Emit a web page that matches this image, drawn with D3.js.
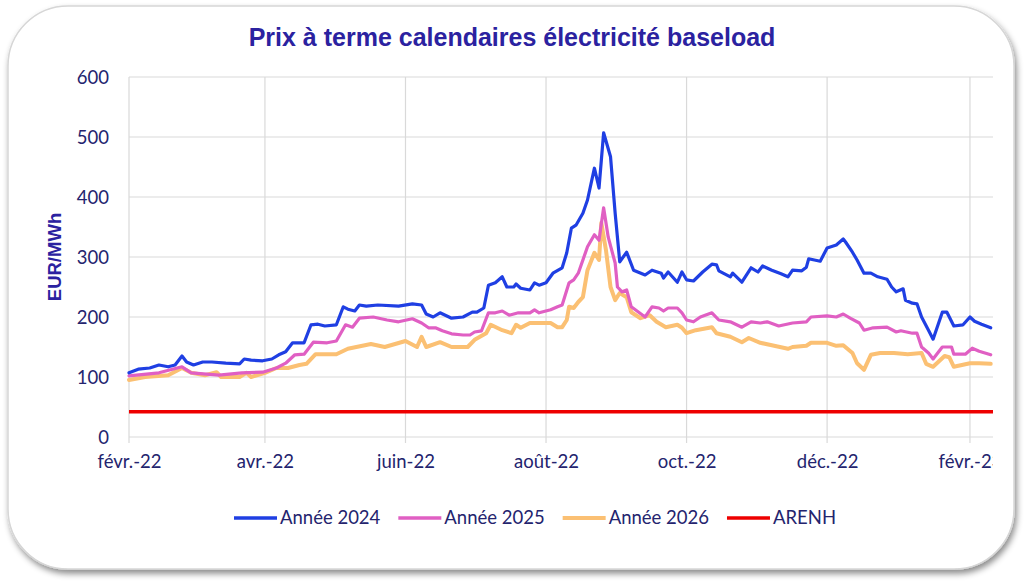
<!DOCTYPE html>
<html><head><meta charset="utf-8">
<script src="https://cdn.jsdelivr.net/npm/d3@7"></script>
<style>
html,body{margin:0;padding:0;background:#fff;}
svg{display:block;}
</style></head>
<body>
<svg id="chart" width="1024" height="584"></svg>
<script>
const title = "Prix à terme calendaires électricité baseload";
const yTitle = "EUR/MWh";
const seriesNames = ["Année 2024", "Année 2025", "Année 2026", "ARENH"];
const seriesColors = ["#1f3fe3", "#e05fc3", "#fbc073", "#ee0000"];
const yTicks = [0, 100, 200, 300, 400, 500, 600];
const xTickDates = ["2022-02-01","2022-04-01","2022-06-01","2022-08-01","2022-10-01","2022-12-01","2023-02-01"];
const xTickLabels = ["févr.-22","avr.-22","juin-22","août-22","oct.-22","déc.-22","févr.-23"];
const xDomain = ["2022-02-01", "2023-02-11"];

const dates2024 = ["2022-02-01","2022-02-05","2022-02-10","2022-02-14","2022-02-18","2022-02-21","2022-02-24","2022-02-26","2022-03-01","2022-03-05","2022-03-09","2022-03-15","2022-03-21","2022-03-23","2022-03-26","2022-03-31","2022-04-04","2022-04-07","2022-04-10","2022-04-13","2022-04-18","2022-04-21","2022-04-24","2022-04-27","2022-05-02","2022-05-05","2022-05-07","2022-05-10","2022-05-12","2022-05-15","2022-05-20","2022-05-29","2022-06-04","2022-06-08","2022-06-10","2022-06-13","2022-06-16","2022-06-21","2022-06-26","2022-06-30","2022-07-02","2022-07-05","2022-07-07","2022-07-10","2022-07-13","2022-07-15","2022-07-18","2022-07-19","2022-07-21","2022-07-25","2022-07-27","2022-07-29","2022-08-01","2022-08-04","2022-08-08","2022-08-10","2022-08-12","2022-08-14","2022-08-17","2022-08-19","2022-08-22","2022-08-24","2022-08-26","2022-08-29","2022-08-31","2022-09-02","2022-09-05","2022-09-08","2022-09-13","2022-09-16","2022-09-20","2022-09-21","2022-09-23","2022-09-27","2022-09-29","2022-10-01","2022-10-04","2022-10-08","2022-10-12","2022-10-14","2022-10-15","2022-10-20","2022-10-21","2022-10-25","2022-10-29","2022-11-01","2022-11-03","2022-11-07","2022-11-11","2022-11-14","2022-11-16","2022-11-20","2022-11-22","2022-11-23","2022-11-28","2022-12-01","2022-12-05","2022-12-08","2022-12-09","2022-12-12","2022-12-14","2022-12-17","2022-12-20","2022-12-23","2022-12-27","2022-12-29","2022-12-31","2023-01-03","2023-01-04","2023-01-07","2023-01-09","2023-01-11","2023-01-14","2023-01-16","2023-01-20","2023-01-22","2023-01-25","2023-01-29","2023-02-01","2023-02-03","2023-02-06","2023-02-10"];
const values2024 = [107,113,115,120,117,120,135,125,120,125,125,123,122,130,128,127,130,137,142,157,157,187,188,185,187,217,213,210,220,218,220,218,222,220,205,200,207,198,200,208,208,215,253,257,267,250,250,255,248,245,257,253,257,273,282,307,348,353,373,395,448,415,507,467,373,292,308,278,270,278,273,265,275,258,275,262,260,275,288,287,277,267,273,258,282,275,285,278,272,267,278,277,283,297,293,315,320,330,325,308,295,273,273,267,263,250,242,247,228,223,222,200,178,163,208,208,185,187,200,193,188,182];

const dates2025 = ["2022-02-01","2022-02-14","2022-02-24","2022-02-28","2022-03-12","2022-03-22","2022-03-31","2022-04-06","2022-04-10","2022-04-14","2022-04-18","2022-04-22","2022-04-28","2022-05-02","2022-05-06","2022-05-09","2022-05-12","2022-05-18","2022-05-24","2022-05-29","2022-06-04","2022-06-08","2022-06-11","2022-06-14","2022-06-17","2022-06-21","2022-06-26","2022-06-29","2022-07-01","2022-07-04","2022-07-07","2022-07-10","2022-07-13","2022-07-16","2022-07-20","2022-07-25","2022-07-27","2022-07-29","2022-08-03","2022-08-06","2022-08-08","2022-08-11","2022-08-13","2022-08-15","2022-08-19","2022-08-22","2022-08-24","2022-08-26","2022-08-28","2022-08-31","2022-09-01","2022-09-03","2022-09-05","2022-09-07","2022-09-13","2022-09-16","2022-09-19","2022-09-21","2022-09-23","2022-09-27","2022-09-29","2022-10-01","2022-10-04","2022-10-07","2022-10-12","2022-10-15","2022-10-20","2022-10-25","2022-10-29","2022-11-02","2022-11-05","2022-11-10","2022-11-16","2022-11-22","2022-11-24","2022-12-01","2022-12-05","2022-12-08","2022-12-11","2022-12-15","2022-12-17","2022-12-21","2022-12-27","2022-12-31","2023-01-02","2023-01-07","2023-01-09","2023-01-11","2023-01-14","2023-01-16","2023-01-20","2023-01-24","2023-01-25","2023-01-30","2023-02-02","2023-02-05","2023-02-10"];
const values2025 = [102,107,117,107,103,107,108,115,123,137,138,158,157,160,187,183,198,200,195,192,197,190,182,182,177,172,170,170,175,177,207,207,210,203,207,207,212,207,212,217,220,257,262,273,317,337,328,382,333,290,250,242,245,217,200,217,215,210,215,215,207,195,192,200,207,195,192,183,192,190,192,185,190,192,200,202,200,205,198,190,178,182,183,175,177,173,173,150,140,130,150,150,138,138,148,143,137];

const dates2026 = ["2022-02-01","2022-02-08","2022-02-18","2022-02-24","2022-02-28","2022-03-06","2022-03-11","2022-03-13","2022-03-21","2022-03-24","2022-03-26","2022-04-01","2022-04-06","2022-04-11","2022-04-16","2022-04-19","2022-04-23","2022-05-02","2022-05-07","2022-05-17","2022-05-23","2022-06-01","2022-06-06","2022-06-08","2022-06-10","2022-06-16","2022-06-21","2022-06-28","2022-07-01","2022-07-06","2022-07-08","2022-07-13","2022-07-17","2022-07-19","2022-07-21","2022-07-25","2022-07-29","2022-08-03","2022-08-06","2022-08-08","2022-08-10","2022-08-11","2022-08-13","2022-08-15","2022-08-17","2022-08-19","2022-08-22","2022-08-24","2022-08-25","2022-08-27","2022-08-29","2022-08-31","2022-09-02","2022-09-05","2022-09-07","2022-09-11","2022-09-15","2022-09-18","2022-09-22","2022-09-27","2022-09-29","2022-10-01","2022-10-05","2022-10-12","2022-10-14","2022-10-20","2022-10-25","2022-10-28","2022-11-02","2022-11-08","2022-11-14","2022-11-16","2022-11-22","2022-11-24","2022-12-01","2022-12-05","2022-12-08","2022-12-12","2022-12-14","2022-12-17","2022-12-20","2022-12-24","2022-12-30","2023-01-05","2023-01-11","2023-01-13","2023-01-16","2023-01-21","2023-01-23","2023-01-25","2023-02-01","2023-02-05","2023-02-10"];
const values2026 = [95,100,103,115,107,103,108,100,100,107,100,107,115,115,120,122,138,138,147,155,150,160,150,167,150,158,150,150,162,173,187,178,173,187,182,190,190,190,183,183,195,217,215,225,233,278,307,295,357,312,250,228,240,233,208,198,203,192,183,187,182,173,178,183,173,167,158,165,157,152,147,150,152,157,157,152,153,140,123,112,137,140,140,138,140,122,117,135,133,117,123,123,122];

const arenhValue = 42;

(function draw() {
const parse = d3.timeParse("%Y-%m-%d");
const svg = d3.select("#chart");

const defs = svg.append("defs");
const f = defs.append("filter").attr("id","shadow").attr("x","-5%").attr("y","-5%").attr("width","110%").attr("height","115%");
f.append("feDropShadow").attr("dx",2).attr("dy",4).attr("stdDeviation",3).attr("flood-color","#000").attr("flood-opacity",0.45);
svg.append("rect").attr("x",8).attr("y",6).attr("width",1006).attr("height",563)
  .attr("rx",60).attr("ry",60).attr("fill","#fff").attr("stroke","#d6d6d6").attr("stroke-width",1.5)
  .attr("filter","url(#shadow)");

const mLeft = 129, mRight = 993, mTop = 77, mBottom = 437;
const x = d3.scaleTime().domain(xDomain.map(parse)).range([mLeft, mRight]);
const y = d3.scaleLinear().domain([0, 600]).range([mBottom, mTop]);

const labelFont = "Lato, 'Noto Sans', sans-serif";
const labelColor = "#24246e";

const g = svg.append("g");
g.selectAll("line.h").data(yTicks).join("line").attr("class","h")
  .attr("x1", mLeft).attr("x2", mRight).attr("y1", d => y(d)).attr("y2", d => y(d))
  .attr("stroke", "#d9d9d9").attr("stroke-width", 1.2);
g.selectAll("line.v").data(xTickDates).join("line").attr("class","v")
  .attr("x1", d => x(parse(d))).attr("x2", d => x(parse(d))).attr("y1", mTop).attr("y2", mBottom + 6)
  .attr("stroke", "#d9d9d9").attr("stroke-width", 1.2);

const yAxis = d3.axisLeft(y).tickValues(yTicks).tickSize(0).tickPadding(0).tickFormat(d3.format("d"));
const ya = svg.append("g").attr("transform", `translate(${mLeft - 20},0)`).call(yAxis);
ya.select(".domain").remove();
ya.selectAll("text").attr("font-family", labelFont).attr("font-size", 18.5).attr("fill", labelColor).attr("dy","0.35em");

defs.append("clipPath").attr("id","xclip").append("rect").attr("x",0).attr("y",-10).attr("width",993).attr("height",60);
const xAxis = d3.axisBottom(x).tickValues(xTickDates.map(parse)).tickSize(0).tickPadding(0)
  .tickFormat((d, i) => xTickLabels[i]);
const xa = svg.append("g").attr("transform", `translate(0,${mBottom + 18})`).attr("clip-path","url(#xclip)").call(xAxis);
xa.select(".domain").remove();
xa.selectAll("text").attr("font-family", labelFont).attr("font-size", 18.5).attr("fill", labelColor).attr("dy","0.71em");

const line = d3.line().x(d => x(d.date)).y(d => y(d.value)).curve(d3.curveLinear);
const series = [
  {dates: dates2024, values: values2024, w: 3.2},
  {dates: dates2025, values: values2025, w: 3.2},
  {dates: dates2026, values: values2026, w: 4},
];
svg.append("line").attr("x1", x(parse(xDomain[0]))).attr("x2", x(parse(xDomain[1])))
  .attr("y1", y(arenhValue)).attr("y2", y(arenhValue))
  .attr("stroke", seriesColors[3]).attr("stroke-width", 3.5);
[2,1,0].forEach(i => {
  const s = series[i];
  const data = s.dates.map((d, k) => ({date: parse(d), value: s.values[k]}));
  svg.append("path").datum(data).attr("d", line).attr("fill", "none")
    .attr("stroke", seriesColors[i]).attr("stroke-width", s.w).attr("stroke-linejoin","round").attr("stroke-linecap","round");
});

svg.append("text").attr("x", 512).attr("y", 46).attr("text-anchor", "middle")
  .attr("font-family", "'Liberation Sans', Arial, sans-serif").attr("font-weight", "bold").attr("font-size", 25)
  .attr("fill", "#2b22a0").text(title);

svg.append("text").attr("transform", "translate(61,257) rotate(-90)").attr("text-anchor", "middle")
  .attr("font-family", "'Liberation Sans', Arial, sans-serif").attr("font-weight", "bold").attr("font-size", 18.5)
  .attr("fill", "#2b22a0").text(yTitle);

const lg = svg.append("g");
let lx = 234;
seriesNames.forEach((name, i) => {
  lg.append("line").attr("x1", lx).attr("x2", lx + 43).attr("y1", 518).attr("y2", 518)
    .attr("stroke", seriesColors[i]).attr("stroke-width", i === 2 ? 4 : 3.5);
  const t = lg.append("text").attr("x", lx + 46).attr("y", 518).attr("dy", "0.35em")
    .attr("font-family", labelFont).attr("font-size", 18.5).attr("fill", labelColor).text(name);
  lx += 46 + t.node().getComputedTextLength() + 18;
});
})();
</script>
</body></html>
